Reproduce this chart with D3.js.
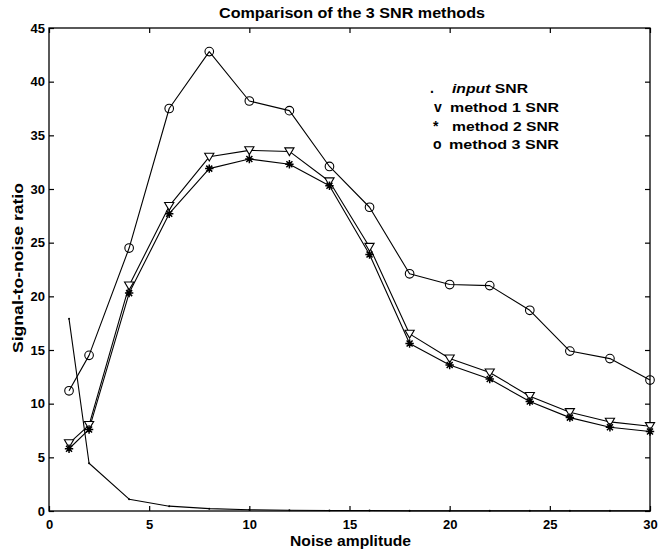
<!DOCTYPE html>
<html>
<head>
<meta charset="utf-8">
<script src="https://cdn.jsdelivr.net/npm/d3@7"></script>
<style>
  html, body { margin: 0; padding: 0; background: #fff; }
  svg { display: block; }
  text { font-family: "Liberation Sans", Arial, Helvetica, sans-serif; font-weight: bold; fill: #000; }
</style>
</head>
<body>
<svg id="chart" width="658" height="552"></svg>
<script>
// Noise amplitudes at which each SNR was measured
const noiseAmplitude = [1, 2, 4, 6, 8, 10, 12, 14, 16, 18, 20, 22, 24, 26, 28, 30];

// SNR series
const inputSNR   = [17.9, 4.45, 1.1, 0.45, 0.22, 0.12, 0.07, 0.05, 0.04, 0.03, 0.03, 0.02, 0.02, 0.02, 0.02, 0.02];
const method1SNR = [6.3, 8.0, 21.0, 28.4, 33.0, 33.6, 33.5, 30.7, 24.6, 16.5, 14.2, 12.9, 10.7, 9.2, 8.3, 7.9];
const method2SNR = [5.8, 7.6, 20.3, 27.7, 31.9, 32.8, 32.3, 30.3, 23.9, 15.6, 13.6, 12.3, 10.2, 8.7, 7.8, 7.4];
const method3SNR = [11.2, 14.5, 24.5, 37.5, 42.8, 38.2, 37.3, 32.1, 28.3, 22.1, 21.1, 21.0, 18.7, 14.9, 14.2, 12.2];

// Tick labels
const xTicks = [0, 5, 10, 15, 20, 25, 30];
const yTicks = [0, 5, 10, 15, 20, 25, 30, 35, 40, 45];

// Legend entries (text legend: marker character followed by label)
const legendSymbols = [".", "v", "*", "o"];
const legendLabels  = ["input SNR", "method 1 SNR", "method 2 SNR", "method 3 SNR"];
const legendItalicFirstWord = [true, false, false, false];

const titleText  = "Comparison of the 3 SNR methods";
const xLabelText = "Noise amplitude";
const yLabelText = "Signal-to-noise ratio";

const svg = d3.select("#chart");
const plotLeft = 49, plotRight = 650, plotTop = 28, plotBottom = 511;

const x = d3.scaleLinear().domain([0, 30]).range([plotLeft, plotRight]);
const y = d3.scaleLinear().domain([0, 45]).range([plotBottom, plotTop]);

// stretch a text element to a given rendered width
function fitWidth(sel, w) {
  sel.attr("textLength", w).attr("lengthAdjust", "spacingAndGlyphs");
}

// Axes with inward ticks on all four sides
const tickLen = 5;
const gx = svg.append("g").attr("transform", `translate(0,${plotBottom})`)
  .call(d3.axisBottom(x).tickValues(xTicks).tickSize(-tickLen).tickPadding(9).tickFormat(d3.format("d")));
const gy = svg.append("g").attr("transform", `translate(${plotLeft},0)`)
  .call(d3.axisLeft(y).tickValues(yTicks).tickSize(-tickLen).tickPadding(4).tickFormat(d3.format("d")));
const gxt = svg.append("g").attr("transform", `translate(0,${plotTop})`)
  .call(d3.axisTop(x).tickValues(xTicks).tickSize(-tickLen).tickFormat(""));
const gyr = svg.append("g").attr("transform", `translate(${plotRight},0)`)
  .call(d3.axisRight(y).tickValues(yTicks).tickSize(-tickLen).tickFormat(""));

[gx, gy, gxt, gyr].forEach(g => {
  g.select(".domain").remove();
  g.selectAll(".tick line").attr("stroke", "#000").attr("stroke-width", 1.2);
  g.selectAll(".tick text")
    .attr("font-size", 13)
    .attr("font-family", "'Liberation Sans', Arial, Helvetica, sans-serif")
    .attr("font-weight", "bold")
    .attr("fill", "#000");
});

// Plot frame
svg.append("rect")
  .attr("x", plotLeft).attr("y", plotTop)
  .attr("width", plotRight - plotLeft).attr("height", plotBottom - plotTop)
  .attr("fill", "none").attr("stroke", "#000").attr("stroke-width", 1.3);

// Series lines
const line = d3.line().x((d, i) => x(noiseAmplitude[i])).y(d => y(d));
const series = [inputSNR, method1SNR, method2SNR, method3SNR];
const plot = svg.append("g");
series.forEach(s => {
  plot.append("path").datum(s).attr("d", line)
    .attr("fill", "none").attr("stroke", "#000").attr("stroke-width", 1.1)
    .attr("stroke-linejoin", "round");
});

// Markers
const pts = s => s.map((v, i) => ({ x: x(noiseAmplitude[i]), y: y(v) }));

plot.selectAll(".pt-input").data(pts(inputSNR)).join("circle")
  .attr("cx", d => d.x).attr("cy", d => d.y).attr("r", 1).attr("fill", "#000");

plot.selectAll(".pt-m1").data(pts(method1SNR)).join("path")
  .attr("transform", d => `translate(${d.x},${d.y})`)
  .attr("d", "M-4.6,-3.6L4.6,-3.6L0,4.2Z")
  .attr("fill", "#fff").attr("stroke", "#000").attr("stroke-width", 1.1);

plot.selectAll(".pt-m2").data(pts(method2SNR)).join("path")
  .attr("transform", d => `translate(${d.x},${d.y})`)
  .attr("d", "M0,-4.2V4.2M-4.2,0H4.2M-3,-3L3,3M-3,3L3,-3")
  .attr("fill", "none").attr("stroke", "#000").attr("stroke-width", 1.5);

plot.selectAll(".pt-m3").data(pts(method3SNR)).join("circle")
  .attr("cx", d => d.x).attr("cy", d => d.y).attr("r", 4.3)
  .attr("fill", "none").attr("stroke", "#000").attr("stroke-width", 1.1);

// Title and axis labels
svg.append("text").attr("x", 352).attr("y", 18).attr("text-anchor", "middle")
  .attr("font-size", 14).text(titleText).call(fitWidth, 266);
svg.append("text").attr("x", 350.5).attr("y", 546).attr("text-anchor", "middle")
  .attr("font-size", 15).text(xLabelText).call(fitWidth, 121);
svg.append("text").attr("transform", "translate(23,268) rotate(-90)").attr("text-anchor", "middle")
  .attr("font-size", 14.5).text(yLabelText).call(fitWidth, 170);

// Legend
const legendX = [430, 434, 433, 433];
const legendTextX = [452, 450, 452, 449];
const legendTextEnd = [528, 559, 559, 559];
const legendY0 = 92.7, legendDy = 18.9;
legendSymbols.forEach((sym, i) => {
  const yy = legendY0 + i * legendDy;
  svg.append("text").attr("x", legendX[i]).attr("y", yy).attr("font-size", 14).text(sym);
  const t = svg.append("text").attr("x", legendTextX[i]).attr("y", yy).attr("font-size", 13);
  const label = legendLabels[i];
  if (legendItalicFirstWord[i]) {
    const sp = label.indexOf(" ");
    t.append("tspan").attr("font-style", "italic").text(label.slice(0, sp));
    t.append("tspan").text(label.slice(sp));
  } else {
    t.text(label);
  }
  t.call(fitWidth, legendTextEnd[i] - legendTextX[i]);
});
</script>
</body>
</html>
